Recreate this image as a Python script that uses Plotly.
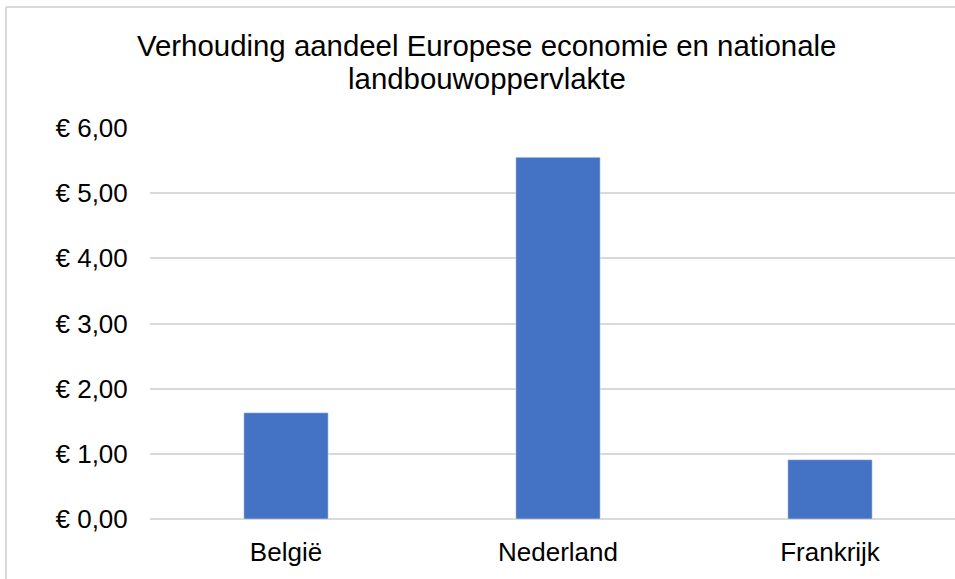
import plotly.graph_objects as go

categories = ["België", "Nederland", "Frankrijk"]
values = [1.63, 5.55, 0.91]
tick_vals = [0, 1, 2, 3, 4, 5, 6]
tick_text = ["€ 0,00", "€ 1,00", "€ 2,00", "€ 3,00", "€ 4,00", "€ 5,00", "€ 6,00"]
title_lines = ["Verhouding aandeel Europese economie en nationale", "landbouwoppervlakte"]

W, H = 955, 579
L, R, T, B = 150, 0, 128, 60
pw, ph = W - L - R, H - T - B

fig = go.Figure(go.Bar(x=categories, y=values, marker_color="#4472C4", width=0.31))

fig.update_layout(
    width=W, height=H,
    margin=dict(l=L, r=R, t=T, b=B),
    paper_bgcolor="white", plot_bgcolor="white",
    font=dict(family="Liberation Sans, Arial, sans-serif", size=26, color="#000000"),
    showlegend=False,
)
for line, ypx in zip(title_lines, [45, 79]):
    fig.add_annotation(text=line, xref="paper", yref="paper",
                       x=(486.5 - L) / pw, y=(H - B - ypx) / ph,
                       xanchor="center", yanchor="middle", showarrow=False,
                       font=dict(size=29.4, color="#000000"))

fig.update_xaxes(range=[-0.5, -0.5 + pw / 272], showgrid=False, showline=False,
                 ticks="outside", ticklen=10, tickcolor="rgba(0,0,0,0)",
                 tickfont=dict(size=26))
fig.update_yaxes(range=[0, 6], tickvals=tick_vals, ticktext=tick_text,
                 showgrid=True, gridcolor="#d9d9d9", gridwidth=1.5,
                 zeroline=True, zerolinecolor="#d9d9d9", zerolinewidth=1.5,
                 showline=False, ticks="outside", ticklen=16, tickcolor="rgba(0,0,0,0)",
                 tickfont=dict(size=26))

# chart border (outer frame: left and top edges visible)
fig.add_shape(type="line", xref="paper", yref="paper",
              x0=(6 - L) / pw, x1=(6 - L) / pw, y0=-B / ph, y1=(H - B - 7) / ph,
              line=dict(color="#d9d9d9", width=2), layer="below")
fig.add_shape(type="line", xref="paper", yref="paper",
              x0=(6 - L) / pw, x1=1.0, y0=(H - B - 7) / ph, y1=(H - B - 7) / ph,
              line=dict(color="#d9d9d9", width=2), layer="below")

fig.write_html("out.html", config={"displayModeBar": False},
               post_script="document.body.style.margin='0';document.body.style.overflow='hidden';"
                           "document.documentElement.style.overflow='hidden';")
